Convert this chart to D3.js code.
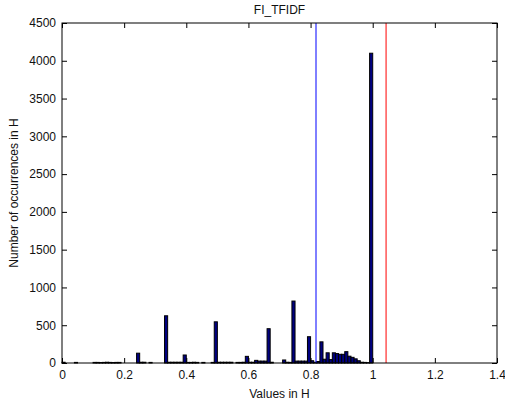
<!doctype html>
<html>
<head>
<meta charset="utf-8">
<title>FI_TFIDF</title>
<style>
  body { margin: 0; background: #fff; }
  text { font-family: "Liberation Sans", Arial, sans-serif; fill: #111; }
</style>
</head>
<body>
<svg width="505" height="404"></svg>
<script src="https://cdnjs.cloudflare.com/ajax/libs/d3/7.8.5/d3.min.js"></script>
<script>
// histogram counts, 100 bins of width 0.01 over [0, 1]
var binWidth = 0.01;
var counts = [
  10, 0, 0, 0, 8, 0, 0, 0, 0, 0,
  8, 8, 6, 8, 10, 8, 6, 8, 8, 0,
  0, 0, 0, 0, 130, 10, 10, 0, 8, 0,
  0, 0, 0, 625, 10, 10, 10, 10, 10, 106,
  8, 8, 10, 8, 0, 8, 0, 0, 8, 545,
  10, 10, 10, 10, 10, 0, 8, 8, 10, 88,
  10, 10, 35, 25, 25, 25, 454, 10, 0, 0,
  0, 40, 10, 8, 820, 25, 25, 25, 25, 348,
  30, 10, 20, 280, 50, 135, 45, 135, 125, 115,
  115, 150, 90, 75, 55, 30, 10, 8, 5, 4100
];
var xTicks = [0, 0.2, 0.4, 0.6, 0.8, 1, 1.2, 1.4];
var yTicks = [0, 500, 1000, 1500, 2000, 2500, 3000, 3500, 4000, 4500];
var blueLine = 0.8175;
var redLine = 1.043;

var svg = d3.select("svg"),
    pLeft = 62, pRight = 497, pTop = 23, pBottom = 363;

var x = d3.scaleLinear().domain([0, 1.4]).range([pLeft, pRight]);
var y = d3.scaleLinear().domain([0, 4500]).range([pBottom, pTop]);

var bins = counts.map(function(c, i) { return { x0: i * binWidth, x1: (i + 1) * binWidth, n: c }; });

svg.append("g").selectAll("rect")
    .data(bins)
  .enter().append("rect")
    .attr("x", function(d) { return x(d.x0); })
    .attr("width", function(d) { return x(d.x1) - x(d.x0); })
    .attr("y", function(d) { return y(d.n); })
    .attr("height", function(d) { return y(0) - y(d.n); })
    .attr("fill", "#000080")
    .attr("stroke", "#000")
    .attr("stroke-width", 1);

// vertical reference lines
svg.append("line")
    .attr("x1", x(blueLine)).attr("x2", x(blueLine))
    .attr("y1", pTop).attr("y2", pBottom)
    .attr("stroke", "#0000ff");
svg.append("line")
    .attr("x1", x(redLine)).attr("x2", x(redLine))
    .attr("y1", pTop).attr("y2", pBottom)
    .attr("stroke", "#ff0000");

// axes, ticks pointing inward
var tickLen = 5;
svg.append("g")
    .attr("transform", "translate(0," + pBottom + ")")
    .call(d3.axisBottom(x).tickValues(xTicks).tickSizeInner(-tickLen).tickSizeOuter(0).tickPadding(7).tickFormat(d3.format("")))
    .call(function(g) { g.select(".domain").remove(); g.selectAll("text").attr("font-size", 12); });
svg.append("g")
    .attr("transform", "translate(0," + pTop + ")")
    .call(d3.axisTop(x).tickValues(xTicks).tickSizeInner(-tickLen).tickSizeOuter(0).tickFormat(""))
    .call(function(g) { g.select(".domain").remove(); });
svg.append("g")
    .attr("transform", "translate(" + pLeft + ",0)")
    .call(d3.axisLeft(y).tickValues(yTicks).tickSizeInner(-tickLen).tickSizeOuter(0).tickPadding(6).tickFormat(d3.format("")))
    .call(function(g) { g.select(".domain").remove(); g.selectAll("text").attr("font-size", 12); });
svg.append("g")
    .attr("transform", "translate(" + pRight + ",0)")
    .call(d3.axisRight(y).tickValues(yTicks).tickSizeInner(-tickLen).tickSizeOuter(0).tickFormat(""))
    .call(function(g) { g.select(".domain").remove(); });

svg.append("rect")
    .attr("x", pLeft).attr("y", pTop)
    .attr("width", pRight - pLeft).attr("height", pBottom - pTop)
    .attr("fill", "none").attr("stroke", "#000");

svg.append("text")
    .attr("x", (pLeft + pRight) / 2).attr("y", 14)
    .attr("text-anchor", "middle").attr("font-size", 12)
    .text("FI_TFIDF");

svg.append("text")
    .attr("x", (pLeft + pRight) / 2).attr("y", 398)
    .attr("text-anchor", "middle").attr("font-size", 12)
    .text("Values in H");

svg.append("text")
    .attr("transform", "translate(18," + (pTop + pBottom) / 2 + ") rotate(-90)")
    .attr("text-anchor", "middle").attr("font-size", 12)
    .text("Number of occurrences in H");
</script>
</body>
</html>
